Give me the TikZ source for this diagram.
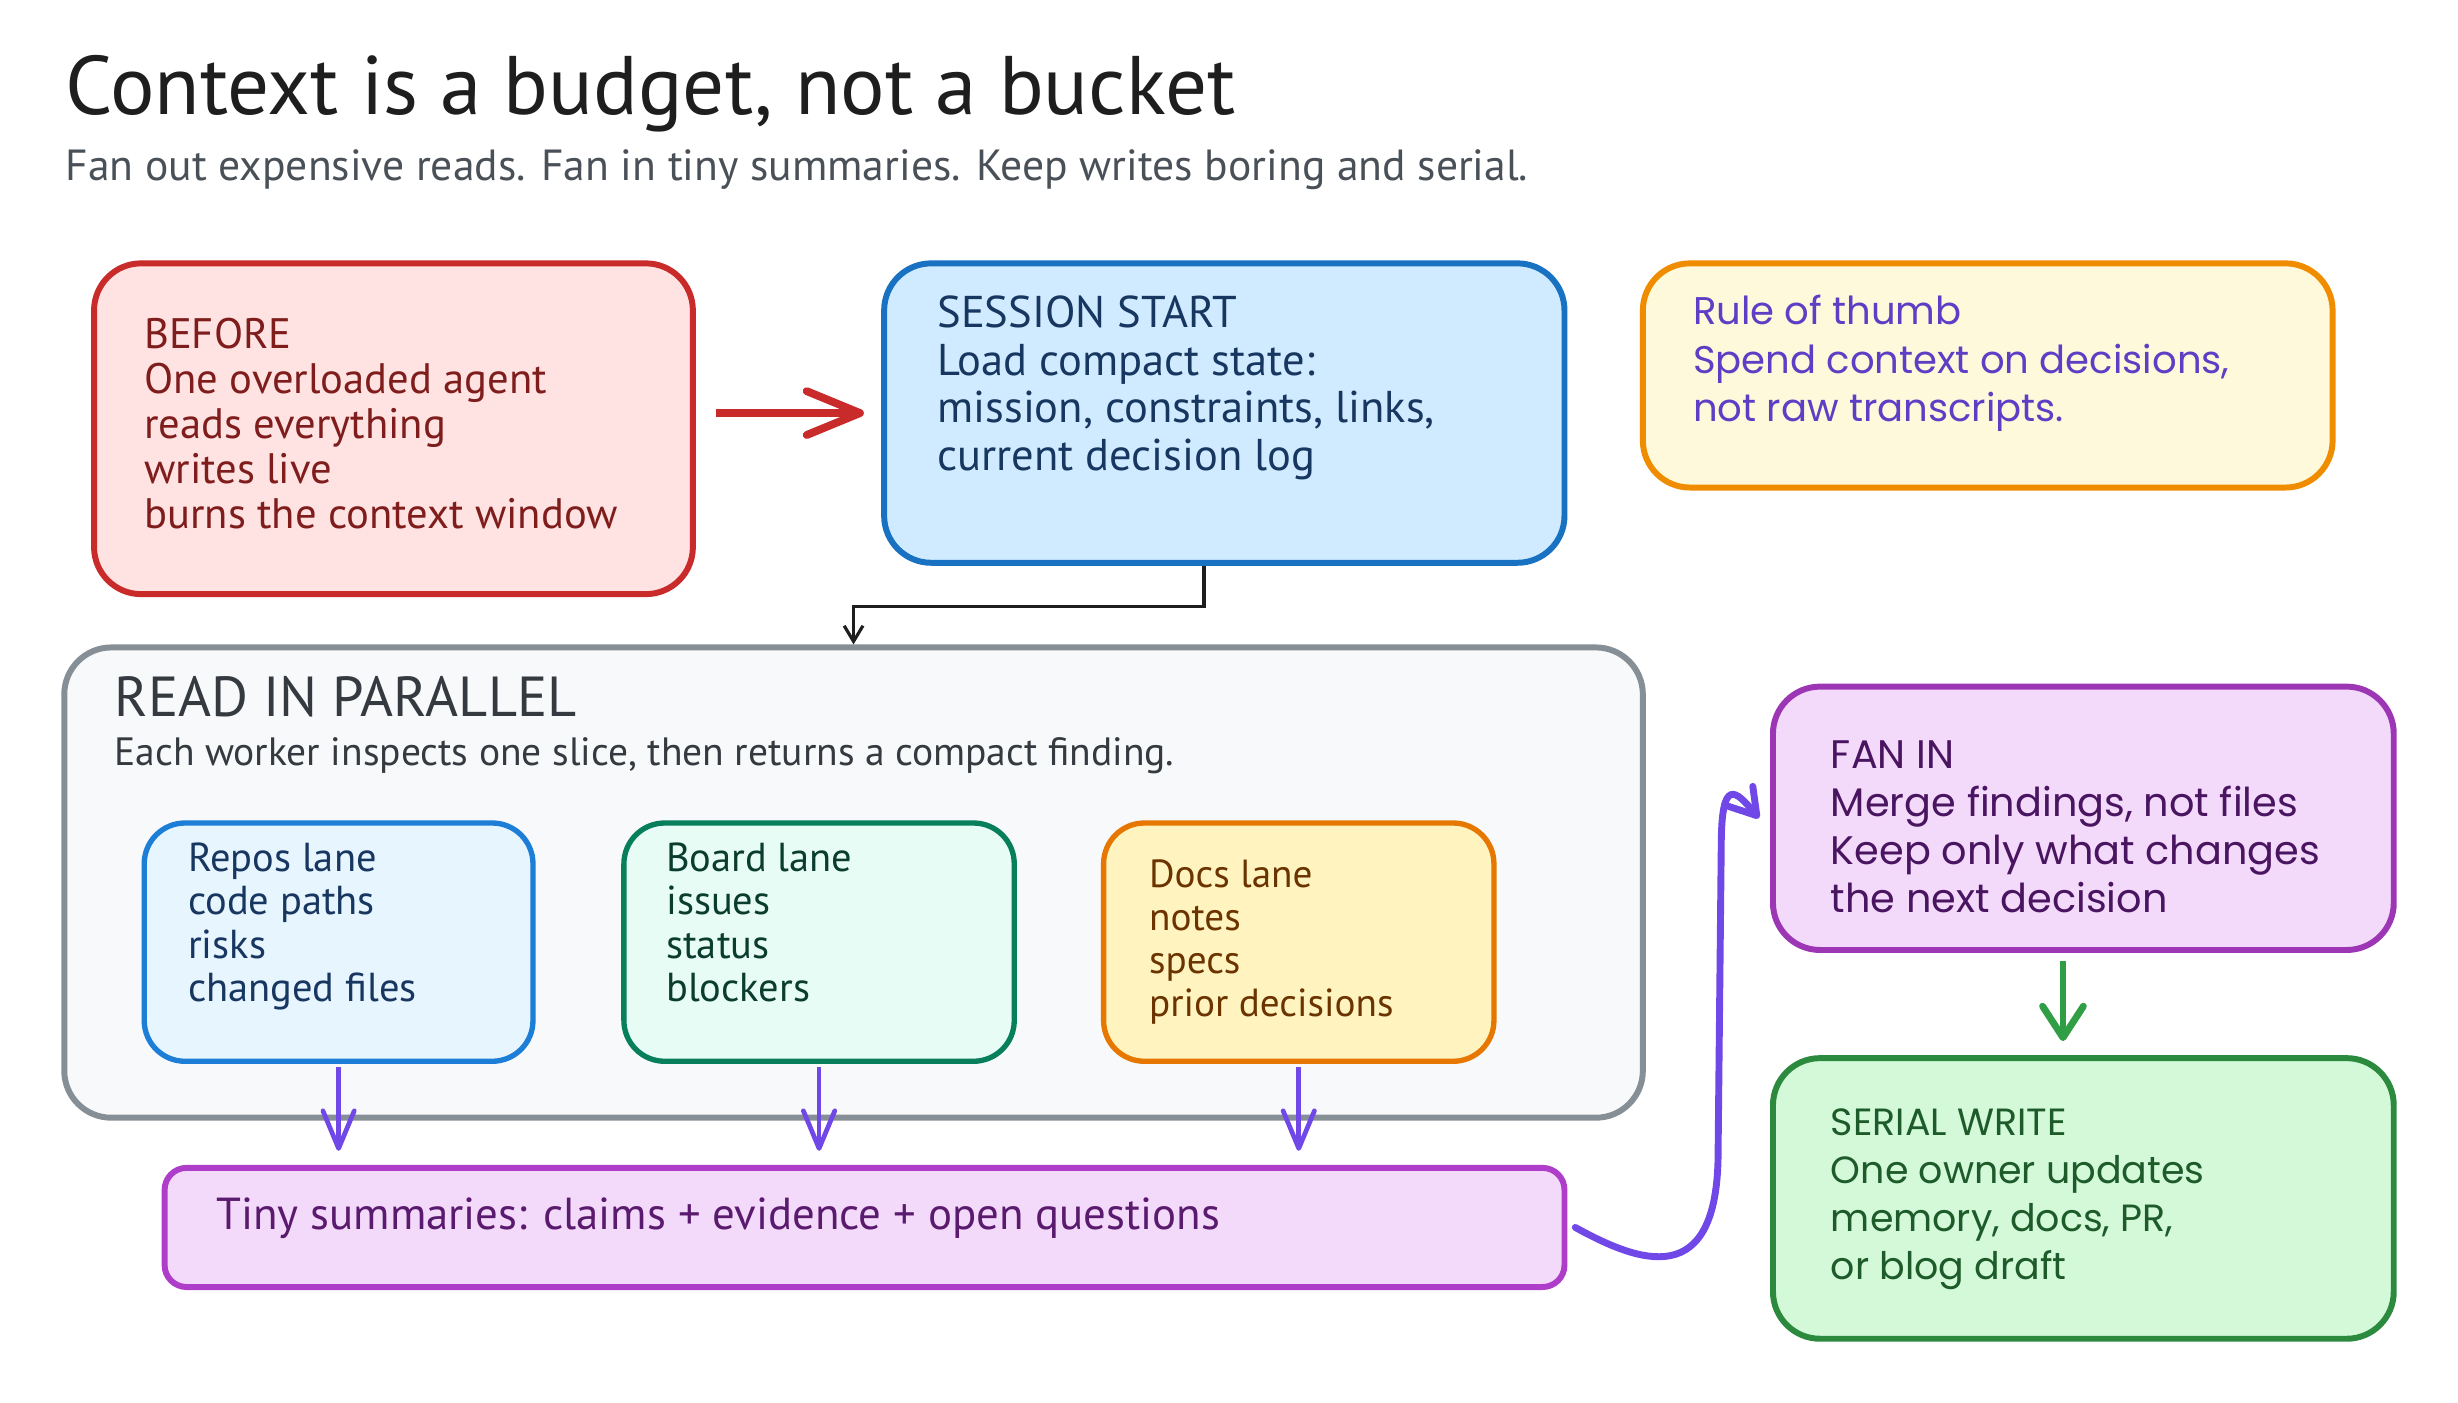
\documentclass[tikz,border=0pt]{standalone}
\usepackage{fontspec}
\setmainfont{PT Sans}
\newfontfamily\widefont{Poppins}
\usetikzlibrary{arrows.meta,calc,fit}

\definecolor{ttl}{HTML}{1E1E1E}
\definecolor{subt}{HTML}{495057}
\definecolor{befS}{HTML}{C92A2A}
\definecolor{befF}{HTML}{FFE3E3}
\definecolor{befT}{HTML}{7F1D1D}
\definecolor{sesS}{HTML}{1971C2}
\definecolor{sesF}{HTML}{D0EBFF}
\definecolor{sesT}{HTML}{173660}
\definecolor{rulS}{HTML}{F08C00}
\definecolor{rulF}{HTML}{FFF9DB}
\definecolor{rulT}{HTML}{5F3DC4}
\definecolor{redS}{HTML}{868E96}
\definecolor{redF}{HTML}{F8F9FA}
\definecolor{redT}{HTML}{343A40}
\definecolor{repS}{HTML}{1C7ED6}
\definecolor{repF}{HTML}{E7F5FF}
\definecolor{repT}{HTML}{173660}
\definecolor{brdS}{HTML}{087F5B}
\definecolor{brdF}{HTML}{E6FCF5}
\definecolor{brdT}{HTML}{0B3D2E}
\definecolor{docS}{HTML}{E67700}
\definecolor{docF}{HTML}{FFF3BF}
\definecolor{docT}{HTML}{6B3300}
\definecolor{tinS}{HTML}{AE3EC9}
\definecolor{tinF}{HTML}{F3D9FA}
\definecolor{tinT}{HTML}{5A1A6E}
\definecolor{fanS}{HTML}{9C36B5}
\definecolor{fanF}{HTML}{F3D9FA}
\definecolor{fanT}{HTML}{4A1560}
\definecolor{serS}{HTML}{2B8A3E}
\definecolor{serF}{HTML}{D3F9D8}
\definecolor{serT}{HTML}{1E5B2A}
\definecolor{violet}{HTML}{7048E8}
\definecolor{grn}{HTML}{2F9E44}

\newcommand{\linesof}[1]{\begin{tabular}[t]{@{}l@{}}#1\end{tabular}}

\tikzset{
  box/.style={draw, line width=1.9pt, rounded corners=15pt, inner sep=0pt},
  lanebox/.style={draw, line width=1.7pt, rounded corners=13pt, inner sep=0pt},
  txt/.style={anchor=base west, inner sep=0pt, outer sep=0pt},
}

\begin{document}
\begin{tikzpicture}[x=0.5pt,y=-0.5pt]
\useasboundingbox[fill=white] (0,0) rectangle (1568,894.4);

% title
\node[txt, text=ttl, font=\fontsize{26.5}{30}\selectfont] (title) at (42,73) {Context is a budget, not a bucket};
\node[txt, text=subt, font=\fontsize{13.9}{16}\selectfont] (subtitle) at (42,115) {Fan out expensive reads. Fan in tiny summaries. Keep writes boring and serial.};

% box corners
\coordinate (b1) at (60,168);   \coordinate (b2) at (442,379);
\coordinate (s1) at (564,168);  \coordinate (s2) at (998,359);
\coordinate (r1) at (1048,168); \coordinate (r2) at (1488,311);
\coordinate (p1) at (41,413);   \coordinate (p2) at (1048,713);
\coordinate (l1) at (92,525);   \coordinate (l2) at (340,677);
\coordinate (g1) at (398,525);  \coordinate (g2) at (647,677);
\coordinate (d1) at (704,525);  \coordinate (d2) at (953,677);
\coordinate (t1) at (105,745);  \coordinate (t2) at (998,821);
\coordinate (f1) at (1131,438); \coordinate (f2) at (1527,606);
\coordinate (w1) at (1131,675); \coordinate (w2) at (1527,854);

\node[box, draw=befS, fill=befF, fit=(b1)(b2)] (before) {};
\node[box, draw=sesS, fill=sesF, fit=(s1)(s2)] (session) {};
\node[box, draw=rulS, fill=rulF, fit=(r1)(r2)] (rule) {};
\node[box, draw=redS, fill=redF, fit=(p1)(p2)] (read) {};
\node[lanebox, draw=repS, fill=repF, fit=(l1)(l2)] (repos) {};
\node[lanebox, draw=brdS, fill=brdF, fit=(g1)(g2)] (board) {};
\node[lanebox, draw=docS, fill=docF, fit=(d1)(d2)] (docs) {};
\node[box, rounded corners=7pt, draw=tinS, fill=tinF, fit=(t1)(t2)] (tiny) {};
\node[box, draw=fanS, fill=fanF, fit=(f1)(f2)] (fanin) {};
\node[box, draw=serS, fill=serF, fit=(w1)(w2)] (serial) {};

% texts
\node[txt, text=befT, font=\fontsize{13.6}{14.4}\selectfont] (beforetxt) at (92,222)
  {\linesof{BEFORE\\One overloaded agent\\reads everything\\writes live\\burns the context window}};
\node[txt, text=sesT, font=\fontsize{14.2}{15.2}\selectfont] (sessiontxt) at (598,209)
  {\linesof{SESSION START\\Load compact state:\\mission, constraints, links,\\current decision log}};
\node[txt, text=rulT, font=\widefont\fontsize{12.3}{15.5}\selectfont] (ruletxt) at (1080,207)
  {\linesof{Rule of thumb\\Spend context on decisions,\\not raw transcripts.}};
\node[txt, text=redT, font=\fontsize{18}{20}\selectfont] (readtitle) at (73,457) {READ IN PARALLEL};
\node[txt, text=redT, font=\fontsize{12.6}{14}\selectfont] (readsub) at (73,488) {Each worker inspects one slice, then returns a compact finding.};
\node[txt, text=repT, font=\fontsize{12.9}{13.8}\selectfont] (repostxt) at (120,556)
  {\linesof{Repos lane\\code paths\\risks\\changed files}};
\node[txt, text=brdT, font=\fontsize{12.9}{13.8}\selectfont] (boardtxt) at (425,556)
  {\linesof{Board lane\\issues\\status\\blockers}};
\node[txt, text=docT, font=\fontsize{12.5}{13.7}\selectfont] (docstxt) at (733,566)
  {\linesof{Docs lane\\notes\\specs\\prior decisions}};
\node[txt, text=tinT, font=\fontsize{14.3}{16}\selectfont] (tinytxt) at (138,784)
  {Tiny summaries: claims + evidence + open questions};
\node[txt, text=fanT, font=\widefont\fontsize{12.7}{15.3}\selectfont] (fanintxt) at (1168,490)
  {\linesof{FAN IN\\Merge findings, not files\\Keep only what changes\\the next decision}};
\node[txt, text=serT, font=\widefont\fontsize{12.1}{15.25}\selectfont] (serialtxt) at (1168,724.5)
  {\linesof{SERIAL WRITE\\One owner updates\\memory, docs, PR,\\or blog draft}};

% connectors
\draw[befS, line width=2.5pt, -{Straight Barb[length=17pt, width=14pt, round]}, shorten <=6.5pt, shorten >=5.5pt]
  (before.east |- session.west) -- (session.west);
\draw[ttl, line width=1pt, -{Straight Barb[length=5pt, width=6pt]}]
  ([xshift=-6.5pt]session.south) -- ++(0,26) -| (read.north);
\foreach \lane in {repos,board,docs}{
  \draw[violet, line width=1.5pt, -{Straight Barb[length=12pt, width=10pt, round]}, shorten <=1pt, shorten >=4.5pt]
    (\lane.south) -- (\lane.south |- tiny.north);
}
\coordinate (bend1) at (1096,735);
\coordinate (bend2) at (1098,540);
\draw[violet, line width=2.2pt, line cap=round, -{Straight Barb[length=8pt, width=10pt, round]}]
  ([xshift=2.5pt]tiny.east) .. controls +(40,22) and +(0,90) .. (bend1) -- (bend2)
  .. controls +(0,-45) and +(-15,-18) .. ([xshift=-3.5pt]fanin.west);
\draw[grn, line width=2.2pt, -{Straight Barb[length=10pt, width=13pt, round]}, shorten <=2.5pt, shorten >=4.5pt]
  ([xshift=-6.5pt]fanin.south) -- ([xshift=-6.5pt]serial.north);
\end{tikzpicture}
\end{document}
